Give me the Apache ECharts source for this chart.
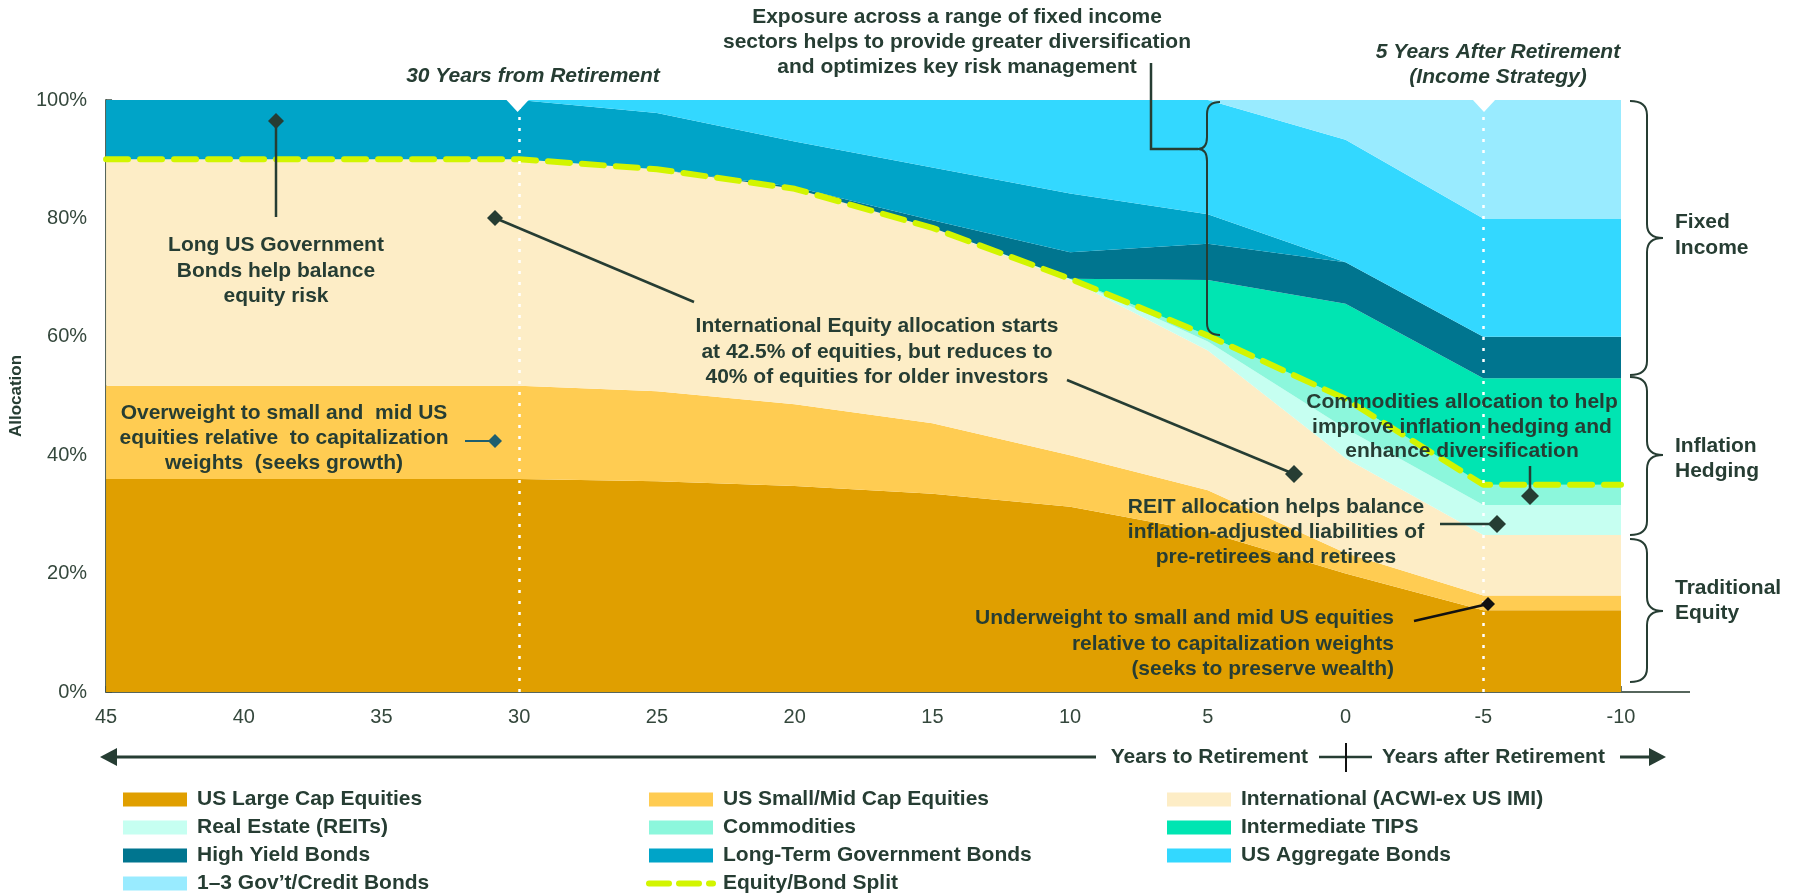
<!DOCTYPE html>
<html><head><meta charset="utf-8">
<script src="https://cdn.jsdelivr.net/npm/echarts@6/dist/echarts.min.js"></script>
<style>html,body{margin:0;padding:0;background:#fff}#c{width:1799px;height:895px}</style>
</head><body><div id="c"></div>
<script>
// ---- data (allocation %, by years to retirement) ----
const years         = ['45', '40', '35', '30', '25', '20', '15', '10', '5', '0', '-5', '-10'];
const usLargeCap    = [36, 36, 36, 36, 35.6, 34.8, 33.5, 31.3, 27, 20, 13.8, 13.8];
const usSmallMid    = [15.75, 15.75, 15.75, 15.75, 15.2, 13.8, 11.9, 8.7, 7.1, 3.5, 2.5, 2.5];
const international = [38.25, 38.25, 38.25, 38.25, 37.5, 36.4, 33.0, 29.6, 23.6, 16, 10.2, 10.2];
const realEstate    = [0, 0, 0, 0, 0, 0, 0, 0.2, 1.5, 5, 5.1, 5.1];
const commodities   = [0, 0, 0, 0, 0, 0, 0, 0, 1.0, 5, 3.4, 3.4];
const tips          = [0, 0, 0, 0, 0, 0, 0, 0, 9.4, 16.1, 18, 18];
const highYield     = [0, 0, 0, 0, 0, 0.3, 1.3, 4.5, 6.1, 7.0, 7.0, 7.0];
const longGov       = [10, 10, 10, 10, 9.5, 7.7, 8.9, 9.9, 5.0, 0, 0, 0];
const aggregate     = [0, 0, 0, 0, 2.2, 7, 11.4, 15.8, 19.3, 20.7, 20, 20];
const shortGov      = [0, 0, 0, 0, 0, 0, 0, 0, 0, 6.7, 20, 20];
const equitySplit   = [90, 90, 90, 90, 88.3, 85, 78.4, 69.8, 60.2, 49.5, 35, 35];
const yTicks = [0, 20, 40, 60, 80, 100];
const markerYears = ['30', '-5'];

const layers = [
  ['US Large Cap Equities', usLargeCap, '#E09F00'],
  ['US Small/Mid Cap Equities', usSmallMid, '#FFCC52'],
  ['International (ACWI-ex US IMI)', international, '#FDEDC6'],
  ['Real Estate (REITs)', realEstate, '#C6FFF1'],
  ['Commodities', commodities, '#8CF7DC'],
  ['Intermediate TIPS', tips, '#00E5B2'],
  ['High Yield Bonds', highYield, '#00758F'],
  ['Long-Term Government Bonds', longGov, '#00A4C8'],
  ['US Aggregate Bonds', aggregate, '#33D8FF'],
  ['1\u20133 Gov\u2019t/Credit Bonds', shortGov, '#99EBFF']
];
const splitName = 'Equity/Bond Split';
const SPLIT_COLOR = '#D2F500';

const TXT = '#263D33';
const FONT = '"Liberation Sans", Arial, sans-serif';

const series = layers.map(([name, arr, color]) => ({
  name, type: 'line', stack: 'alloc', symbol: 'none', smooth: false,
  data: arr.slice(),
  lineStyle: { width: 0 }, itemStyle: { color },
  areaStyle: { color, opacity: 1 }, emphasis: { disabled: true }, z: 2
}));
series.push({
  name: 'markers', type: 'line', data: [], z: 3, silent: true,
  markLine: {
    silent: true, symbol: 'none', label: { show: false },
    lineStyle: { color: '#ffffff', type: [3, 8], width: 2.5 },
    data: markerYears.map(v => ({ xAxis: v }))
  }
});
series.push({
  name: splitName, type: 'line', symbol: 'none', z: 4,
  data: equitySplit.slice(),
  itemStyle: { color: SPLIT_COLOR },
  lineStyle: { color: SPLIT_COLOR, width: 6, type: [22, 12], cap: 'round' },
  emphasis: { disabled: true }
});

// ---- annotation helpers ----
const g = [];
function txt(x, y, text, opt = {}) {
  g.push({ type: 'text', z: 50, style: {
    text, x, y, fill: TXT,
    font: (opt.style || 'bold') + ' ' + (opt.size || 21) + 'px ' + FONT,
    textAlign: opt.align || 'center', textVerticalAlign: 'middle',
    align: opt.align || 'center', verticalAlign: 'middle'
  }});
}
function lines(x, ys, arr, opt) { arr.forEach((t, i) => txt(x, ys[i], t, opt)); }
function pl(points, color = TXT, w = 2.5) {
  g.push({ type: 'polyline', z: 49, shape: { points }, style: { stroke: color, lineWidth: w, fill: null } });
}
function diamond(x, y, r, color = TXT) {
  g.push({ type: 'polygon', z: 51, shape: { points: [[x, y - r], [x + r, y], [x, y + r], [x - r, y]] }, style: { fill: color } });
}
function bez(x1, y1, cx, cy, x2, y2, color, w) {
  g.push({ type: 'bezierCurve', z: 49, shape: { x1, y1, x2, y2, cpx1: cx, cpy1: cy }, style: { stroke: color, lineWidth: w, fill: null } });
}
function brace(x0, xs, xt, y1, ym, y2, r = 12, color = TXT, w = 2) {
  bez(x0, y1, xs, y1, xs, y1 + r, color, w);
  pl([[xs, y1 + r], [xs, ym - r]], color, w);
  bez(xs, ym - r, xs, ym, xt, ym, color, w);
  bez(xt, ym, xs, ym, xs, ym + r, color, w);
  pl([[xs, ym + r], [xs, y2 - r]], color, w);
  bez(xs, y2 - r, xs, y2, x0, y2, color, w);
}
function notch(x) {
  g.push({ type: 'polygon', z: 48, shape: { points: [[x - 12, 99], [x + 12, 99], [x, 112]] }, style: { fill: '#ffffff' } });
}

// top texts
txt(533, 76, '30 Years from Retirement', { style: 'italic bold' });
lines(1498, [52, 77], ['5 Years After Retirement', '(Income Strategy)'], { style: 'italic bold' });
lines(957, [17, 42, 67], ['Exposure across a range of fixed income', 'sectors helps to provide greater diversification', 'and optimizes key risk management']);

// fixed income pointer + brace
pl([[1151, 63], [1151, 149], [1198, 149]]);
brace(1220, 1207, 1198, 102, 149, 335, 12);

// long gov
lines(276, [245, 271, 296], ['Long US Government', 'Bonds help balance', 'equity risk']);
pl([[276, 121], [276, 217]]);
diamond(276, 121, 8);

// overweight
lines(284, [413, 438, 463], ['Overweight to small and  mid US', 'equities relative  to capitalization', 'weights  (seeks growth)']);
pl([[465, 441], [495, 441]], '#1F5E6E', 2);
diamond(495, 441, 7, '#1F5E6E');

// international
lines(877, [326, 352, 377], ['International Equity allocation starts', 'at 42.5% of equities, but reduces to', '40% of equities for older investors']);
pl([[495, 218], [694, 302]]);
diamond(495, 218, 8);
pl([[1067, 380], [1294, 474]]);
diamond(1294, 474, 9);

// commodities
lines(1462, [402, 427, 451], ['Commodities allocation to help', 'improve inflation hedging and', 'enhance diversification']);
pl([[1530, 466], [1530, 494]]);
diamond(1530, 496, 9);

// REIT
lines(1276, [507, 532, 557], ['REIT allocation helps balance', 'inflation-adjusted liabilities of', 'pre-retirees and retirees']);
pl([[1440, 524], [1497, 524]]);
diamond(1497, 524, 9);

// underweight
lines(1394, [618, 644, 669], ['Underweight to small and mid US equities', 'relative to capitalization weights', '(seeks to preserve wealth)'], { align: 'right' });
pl([[1414, 621], [1488, 604]], '#111', 2.5);
diamond(1488, 604, 7, '#111');

// notches at top of marker lines
notch(517.6); notch(1484);

// right-hand braces and labels
brace(1630, 1647, 1663, 101, 238, 375, 14);
brace(1630, 1647, 1663, 377, 455, 535, 14);
brace(1630, 1647, 1663, 539, 611, 682, 14);
lines(1675, [222, 248], ['Fixed', 'Income'], { align: 'left' });
lines(1675, [446, 471], ['Inflation', 'Hedging'], { align: 'left' });
lines(1675, [588, 613], ['Traditional', 'Equity'], { align: 'left' });

// x axis extension line
pl([[1621, 692], [1690, 692]], '#56665C', 2);

// bottom direction arrows
pl([[112, 757], [1096, 757]], TXT, 3);
g.push({ type: 'polygon', z: 49, shape: { points: [[100, 757], [117, 748], [117, 766]] }, style: { fill: TXT } });
txt(1308, 757, 'Years to Retirement', { align: 'right' });
pl([[1319, 757], [1372, 757]], TXT, 2.5);
pl([[1346, 743], [1346, 772]], '#111', 2);
txt(1382, 757, 'Years after Retirement', { align: 'left' });
pl([[1620, 757], [1652, 757]], TXT, 3);
g.push({ type: 'polygon', z: 49, shape: { points: [[1666, 757], [1649, 748], [1649, 766]] }, style: { fill: TXT } });

const legendText = { color: TXT, fontFamily: FONT, fontWeight: 'bold', fontSize: 21, padding: [0, 0, 0, 5] };
function legendCol(names, left) {
  return {
    orient: 'vertical', left, top: 789, itemWidth: 64, itemHeight: 14, itemGap: 7,
    selectedMode: false, textStyle: legendText, padding: 0,
    data: names.map(n => n === splitName
      ? { name: n, itemStyle: { color: 'rgba(0,0,0,0)', borderWidth: 0, opacity: 0 },
          lineStyle: { color: SPLIT_COLOR, width: 6, type: [20, 10], cap: 'round' } }
      : { name: n, icon: 'rect' })
  };
}

const chart = echarts.init(document.getElementById('c'), null, { renderer: 'canvas' });
chart.setOption({
  animation: false,
  backgroundColor: '#ffffff',
  grid: { left: 104, right: 178, top: 100, bottom: 203, containLabel: false },
  xAxis: {
    type: 'category', data: years, boundaryGap: false,
    axisLine: { show: true, onZero: false, lineStyle: { color: '#56665C', width: 2 } },
    axisTick: { show: true, inside: true, length: 6, alignWithLabel: true, lineStyle: { color: '#3E4E44', width: 1.5 } },
    axisLabel: { color: '#34473C', fontFamily: FONT, fontSize: 20, margin: 15, interval: 0 },
    splitLine: { show: false }
  },
  yAxis: {
    type: 'value', min: 0, max: 100, interval: 20,
    name: 'Allocation', nameLocation: 'middle', nameGap: 81,
    nameTextStyle: { color: TXT, fontFamily: FONT, fontWeight: 'bold', fontSize: 17 },
    axisLine: { show: true, onZero: false, lineStyle: { color: '#56665C', width: 2 } },
    axisTick: { show: true, inside: true, length: 6, lineStyle: { color: '#3E4E44', width: 1.5 } },
    axisLabel: { color: '#34473C', fontFamily: FONT, fontSize: 20, margin: 19,
      formatter: v => yTicks.includes(v) ? v + '%' : '' },
    splitLine: { show: false }
  },
  legend: [
    legendCol(['US Large Cap Equities', 'Real Estate (REITs)', 'High Yield Bonds', '1\u20133 Gov\u2019t/Credit Bonds'], 123),
    legendCol(['US Small/Mid Cap Equities', 'Commodities', 'Long-Term Government Bonds', splitName], 646),
    legendCol(['International (ACWI-ex US IMI)', 'Intermediate TIPS', 'US Aggregate Bonds'], 1167)
  ],
  series,
  graphic: g
});
</script>
</body></html>
